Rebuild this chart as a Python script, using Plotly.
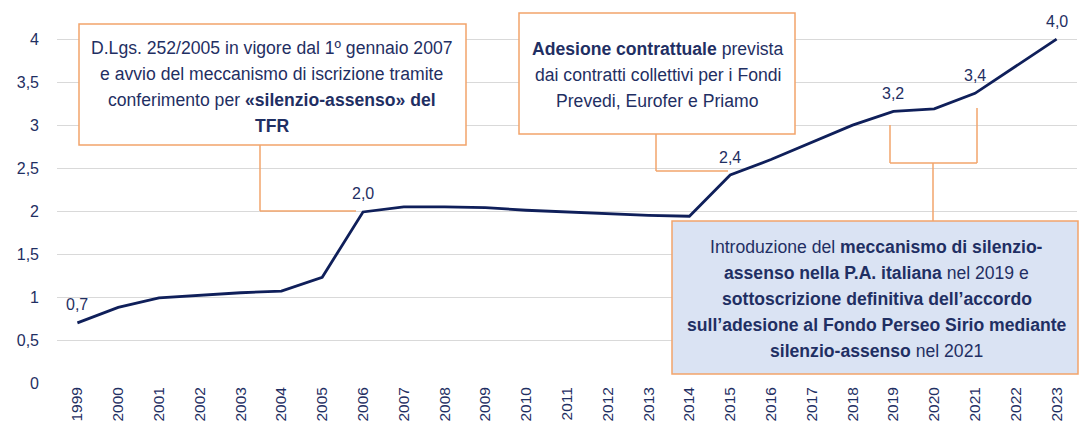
import plotly.graph_objects as go

years = [str(y) for y in range(1999, 2024)]
values = [0.70, 0.88, 0.99, 1.02, 1.05, 1.07, 1.23, 1.99, 2.05, 2.05, 2.04, 2.01, 1.99,
          1.97, 1.95, 1.94, 2.42, 2.60, 2.80, 3.00, 3.16, 3.19, 3.37, 3.69, 4.00]
labelled_years = ["1999", "2006", "2015", "2019", "2021", "2023"]
label_texts = ["0,7", "2,0", "2,4", "3,2", "3,4", "4,0"]
y_ticks = [0, 0.5, 1, 1.5, 2, 2.5, 3, 3.5, 4]
y_tick_text = ["0", "0,5", "1", "1,5", "2", "2,5", "3", "3,5", "4"]

box1_lines = ["D.Lgs. 252/2005 in vigore dal 1º gennaio 2007",
              "e avvio del meccanismo di iscrizione tramite",
              "conferimento per <b>«silenzio-assenso» del</b>",
              "<b>TFR</b>"]
box2_lines = ["<b>Adesione contrattuale</b> prevista",
              "dai contratti collettivi per i Fondi",
              "Prevedi, Eurofer e Priamo"]
box3_lines = ["Introduzione del <b>meccanismo di silenzio-</b>",
              "<b>assenso nella P.A. italiana</b> nel 2019 e",
              "<b>sottoscrizione definitiva dell’accordo</b>",
              "<b>sull’adesione al Fondo Perseo Sirio mediante</b>",
              "<b>silenzio-assenso</b> nel 2021"]

NAVY = "#0f1f5a"
TEXT = "#1f2f63"
ORANGE = "#f2a46b"
FONT = "Liberation Sans, Arial, sans-serif"

W, H = 1079, 432
L, R = 57, 1077      # plot area in px
T, B = 22, 383
YMAX = 4.2

def px(xp):
    return (xp - L) / (R - L)

def py(yp):
    return (B - yp) / (B - T)

fig = go.Figure()
fig.add_trace(go.Scatter(x=years, y=values, mode="lines",
                         line=dict(color=NAVY, width=2.8), cliponaxis=False,
                         hoverinfo="x+y"))

annotations = []
for yr, t in zip(labelled_years, label_texts):
    i = years.index(yr)
    annotations.append(dict(x=i, y=values[i], xref="x", yref="y", text=t, showarrow=False,
                            yshift=18, font=dict(family=FONT, size=16, color=TEXT)))

shapes = []
box_font = dict(family=FONT, size=17.6, color=TEXT)

def box(x0, y0, x1, y1, fill, lines, cx, first_y, step=26):
    shapes.append(dict(type="rect", xref="paper", yref="paper",
                       x0=px(x0), y0=py(y0), x1=px(x1), y1=py(y1),
                       fillcolor=fill, line=dict(color=ORANGE, width=1.5), layer="above"))
    for k, ln in enumerate(lines):
        annotations.append(dict(x=px(cx), y=py(first_y + k * step), xref="paper", yref="paper",
                                xanchor="center", yanchor="middle", text=ln, showarrow=False,
                                font=box_font))

box(79, 24, 466, 145, "white", box1_lines, 271.5, 48)
box(519, 13, 795, 134, "white", box2_lines, 657.5, 49)
box(672, 221, 1078, 374, "#dae3f3", box3_lines, 876.5, 247)

line_style = dict(color=ORANGE, width=1.5)
def seg(x0, y0, x1, y1):
    shapes.append(dict(type="line", xref="paper", yref="paper",
                       x0=px(x0), y0=py(y0), x1=px(x1), y1=py(y1), line=line_style, layer="above"))

# connector box 1 -> 2006
seg(260, 145, 260, 211)
seg(260, 211, 356, 211)
# connector box 2 -> 2015
seg(656, 134, 656, 171)
seg(656, 171, 728, 171)
# bracket 2019-2021 -> box 3
seg(890, 125, 890, 163)
seg(890, 163, 977, 163)
seg(977, 108, 977, 163)
seg(933, 163, 933, 221)

fig.update_layout(
    width=W, height=H,
    margin=dict(l=L, r=W - R, t=T, b=H - B),
    paper_bgcolor="white", plot_bgcolor="white",
    showlegend=False,
    annotations=annotations, shapes=shapes,
    xaxis=dict(type="category", range=[-0.5, len(years) - 0.5], showgrid=False,
               showline=False, ticks="", tickangle=-90, automargin=False,
               tickfont=dict(family=FONT, size=15.5, color=TEXT)),
    yaxis=dict(range=[0, YMAX], tickvals=y_ticks, ticktext=y_tick_text,
               showgrid=True, gridcolor="#d9d9d9", gridwidth=1, zeroline=False,
               showline=False, ticks="", ticklabelstandoff=17, automargin=False,
               tickfont=dict(family=FONT, size=16, color=TEXT)),
)

fig.write_html("out.html", config={"displayModeBar": False},
               post_script="document.body.style.margin='0';")
